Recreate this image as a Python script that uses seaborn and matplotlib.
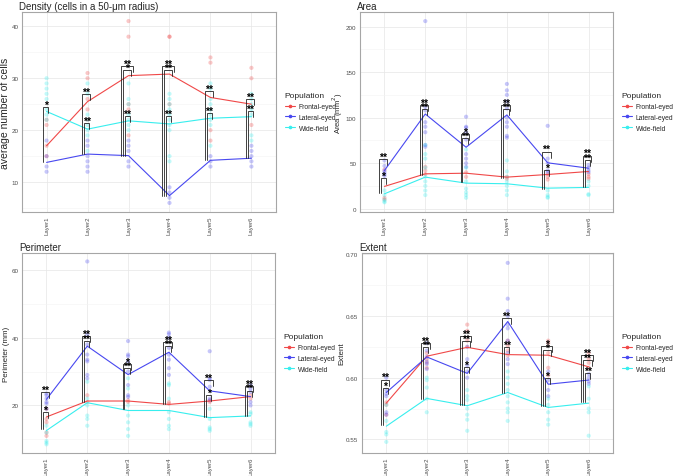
import matplotlib
matplotlib.use("Agg")
import matplotlib.pyplot as plt
import numpy as np
import pandas as pd
import seaborn as sns
from matplotlib.lines import Line2D

sns.set_theme(style="white")
plt.rcParams['font.family'] = ['Liberation Sans', 'DejaVu Sans']

layers = ["Layer1", "Layer2", "Layer3", "Layer4", "Layer5", "Layer6"]
populations = ["Frontal-eyed", "Lateral-eyed", "Wide-field"]
pop_colors = ["#F04848", "#4848F0", "#38EEEE"]

# ---------------- Density ----------------
density_frontal_mean = [17.0, 25.5, 30.5, 30.8, 26.3, 25.0]
density_lateral_mean = [13.8, 15.4, 15.1, 7.4, 14.2, 14.6]
density_wide_mean = [23.6, 20.2, 21.8, 21.2, 22.3, 22.6]
density_frontal_pts = [[22, 21, 17, 15], [31, 30, 26, 24, 22], [41, 38, 25, 24, 19],
                       [38, 38, 25], [34, 33, 20, 18], [32, 30, 21]]
density_lateral_pts = [[18, 15, 13, 12], [18, 17, 15, 14, 13, 12], [18, 17, 16, 14, 13],
                       [9, 8, 7, 6], [15, 14, 13], [17, 16, 15, 14, 13]]
density_wide_pts = [[30, 29, 28, 27, 26, 24, 23, 22], [29, 27, 23, 22, 21, 20, 19, 16],
                    [29, 26, 25, 23, 22, 21, 20], [27, 26, 25, 24, 23, 22, 21, 20, 15, 14],
                    [29, 28, 26, 25, 24, 23, 22, 21, 17], [27, 26, 25, 24, 23, 19, 18]]
density_brackets = [(1, 13.8, 24.4, "*"),
                    (2, 15.4, 26.9, "**"), (2, 15.4, 21.3, "**"),
                    (3, 15.1, 32.4, "**"), (3, 15.1, 31.5, "*"), (3, 15.1, 22.8, "**"),
                    (4, 7.4, 32.4, "**"), (4, 7.4, 31.5, "**"), (4, 7.4, 22.7, "**"),
                    (5, 14.2, 27.6, "**"), (5, 14.2, 23.3, "**"),
                    (6, 14.6, 26.0, "**"), (6, 14.6, 23.6, "**")]

# ---------------- Area ----------------
area_frontal_mean = [24.5, 38.3, 39.0, 34.7, 37.6, 40.9]
area_lateral_mean = [42.0, 104.0, 67.5, 103.0, 50.4, 44.5]
area_wide_mean = [16.4, 34.7, 28.1, 27.4, 22.6, 23.4]
area_frontal_pts = [[43, 12, 10], [46, 42, 38], [40, 35], [35, 33], [38, 35, 32], [38, 35, 33]]
area_lateral_pts = [[53, 47, 42, 40, 38, 36], [206, 112, 108, 95, 90, 84, 70, 68],
                    [101, 90, 89, 84, 76, 60, 55, 50, 46],
                    [137, 130, 125, 118, 110, 100, 95, 90, 80, 78],
                    [91, 55, 50, 42, 40], [48, 45, 42, 40]]
area_wide_pts = [[20, 15, 10, 8, 7], [70, 60, 55, 45, 35, 30, 25, 20, 15],
                 [65, 45, 30, 22, 18, 15, 12], [53, 41, 35, 30, 25, 20, 15],
                 [20, 15, 13, 12], [30, 25, 16, 15]]
area_brackets = [(1, 17, 54.7, "**"), (1, 17, 34, "*"),
                 (2, 37, 114, "**"), (2, 37, 109.5, "**"),
                 (3, 29, 82, "*"), (3, 29, 77.5, "**"),
                 (4, 34, 114, "**"), (4, 34, 109.5, "**"),
                 (5, 22, 62.8, "**"), (5, 22, 42, "*"),
                 (6, 24, 58.4, "**"), (6, 24, 53, "**")]

# ---------------- Perimeter ----------------
perim_frontal_mean = [16.6, 21.3, 21.3, 20.3, 21.3, 22.6]
perim_lateral_mean = [21.8, 37.5, 29.1, 35.7, 24.3, 22.6]
perim_wide_mean = [12.6, 20.8, 18.5, 18.5, 16.4, 16.9]
perim_frontal_pts = [[19, 16, 15, 12, 11], [23, 21], [21.5, 21], [21, 20.5], [21.5, 21], [23, 22]]
perim_lateral_pts = [[23.5, 23, 22, 21, 20.5, 19], [62.5, 41, 38, 35, 33.5, 33, 29, 28],
                     [39, 35, 34.5, 33, 30, 26, 23, 22.5], [41.5, 41, 40, 37, 35, 33.5, 31, 29],
                     [36, 28, 27.5, 25.5, 22, 21.5], [26, 25, 24, 21, 20]]
perim_wide_pts = [[14, 12, 9.5, 9, 8.5], [27, 22, 20, 17, 16, 14], [28, 25, 20, 17, 15, 13, 11],
                  [26.5, 26, 22, 18, 16, 14, 13], [19, 16, 13.5, 13, 12.5], [18, 17.5, 15, 14.5, 14]]
perim_brackets = [(1, 13, 24, "**"), (1, 13, 18, "*"),
                  (2, 21, 40.4, "**"), (2, 21, 39, "**"),
                  (3, 19, 32.3, "*"), (3, 19, 31, "**"),
                  (4, 20.5, 38.8, "**"), (4, 20.5, 37.4, "**"),
                  (5, 16.5, 27.4, "**"), (5, 16.5, 23, "*"),
                  (6, 17, 25.8, "**"), (6, 17, 24.4, "**")]

# ---------------- Extent ----------------
extent_frontal_mean = [0.5794, 0.6174, 0.6246, 0.6187, 0.6182, 0.6088]
extent_lateral_mean = [0.5880, 0.6168, 0.6035, 0.6455, 0.5947, 0.5981]
extent_wide_mean = [0.5607, 0.5832, 0.5773, 0.5880, 0.5759, 0.5794]
extent_frontal_pts = [[0.580, 0.578, 0.570], [0.620, 0.615, 0.612, 0.608],
                      [0.643, 0.638, 0.630, 0.625], [0.630, 0.626, 0.622, 0.618],
                      [0.630, 0.628, 0.620, 0.608, 0.602], [0.620, 0.615, 0.612, 0.608]]
extent_lateral_pts = [[0.600, 0.590, 0.587, 0.585, 0.572, 0.570],
                      [0.628, 0.622, 0.617, 0.613, 0.611, 0.607],
                      [0.625, 0.615, 0.610, 0.605, 0.600],
                      [0.693, 0.664, 0.654, 0.650, 0.643, 0.640, 0.630, 0.620, 0.615, 0.611],
                      [0.605, 0.598, 0.590, 0.585], [0.603, 0.600, 0.597, 0.595]]
extent_wide_pts = [[0.578, 0.565, 0.556, 0.554, 0.548], [0.600, 0.598, 0.592, 0.583, 0.572],
                   [0.590, 0.585, 0.582, 0.575, 0.570, 0.566, 0.557],
                   [0.605, 0.600, 0.595, 0.590, 0.585, 0.580, 0.575, 0.572, 0.565],
                   [0.583, 0.578, 0.572, 0.566, 0.562], [0.593, 0.583, 0.575, 0.572, 0.553]]
extent_brackets = [(1, 0.562, 0.5985, "**"), (1, 0.562, 0.5915, "*"),
                   (2, 0.583, 0.628, "**"), (2, 0.583, 0.6245, "**"),
                   (3, 0.578, 0.6335, "**"), (3, 0.578, 0.6295, "**"), (3, 0.578, 0.609, "*"),
                   (4, 0.588, 0.648, "**"), (4, 0.588, 0.6245, "**"),
                   (5, 0.577, 0.626, "*"), (5, 0.577, 0.6225, "*"), (5, 0.577, 0.5995, "*"),
                   (6, 0.580, 0.618, "**"), (6, 0.580, 0.6145, "**"), (6, 0.580, 0.6035, "**")]

panels = [
    dict(title="Density (cells in a 50-\u03bcm radius)", ylabel="average number of cells",
         means=[density_frontal_mean, density_lateral_mean, density_wide_mean],
         pts=[density_frontal_pts, density_lateral_pts, density_wide_pts],
         brackets=density_brackets, ylim=(4.25, 42.75), yticks=[10, 20, 30, 40],
         minor=[5, 15, 25, 35], fmt="{:.0f}", ylsize=7.5,
         rect=[22 / 676, 1 - 213 / 477, 254 / 676, 200 / 477]),
    dict(title="Area", ylabel="Area (mm$^2$)",
         means=[area_frontal_mean, area_lateral_mean, area_wide_mean],
         pts=[area_frontal_pts, area_lateral_pts, area_wide_pts],
         brackets=area_brackets, ylim=(-3.6, 216), yticks=[0, 50, 100, 150, 200],
         minor=[25, 75, 125, 175], fmt="{:.0f}", ylsize=5.5,
         rect=[360 / 676, 1 - 213 / 477, 253 / 676, 200 / 477]),
    dict(title="Perimeter", ylabel="Perimeter (mm)",
         means=[perim_frontal_mean, perim_lateral_mean, perim_wide_mean],
         pts=[perim_frontal_pts, perim_lateral_pts, perim_wide_pts],
         brackets=perim_brackets, ylim=(5.95, 65.0), yticks=[20, 40, 60],
         minor=[10, 30, 50], fmt="{:.0f}", ylsize=5.8,
         rect=[22 / 676, 1 - 454 / 477, 253 / 676, 200 / 477]),
    dict(title="Extent", ylabel="Extent",
         means=[extent_frontal_mean, extent_lateral_mean, extent_wide_mean],
         pts=[extent_frontal_pts, extent_lateral_pts, extent_wide_pts],
         brackets=extent_brackets, ylim=(0.539, 0.701), yticks=[0.55, 0.60, 0.65, 0.70],
         minor=[0.575, 0.625, 0.675], fmt="{:.2f}", ylsize=5.8,
         rect=[362 / 676, 1 - 454 / 477, 251 / 676, 200 / 477]),
]

fig = plt.figure(figsize=(6.76, 4.77), dpi=100)
palette = dict(zip(populations, pop_colors))
xpos = np.arange(1, 7)

for p in panels:
    ax = fig.add_axes(p["rect"])
    # points
    rows = []
    for pop, pts in zip(populations, p["pts"]):
        for li, vals in enumerate(pts):
            for v in vals:
                rows.append((li + 1, pop, v))
    dpts = pd.DataFrame(rows, columns=["x", "Population", "value"])
    sns.scatterplot(data=dpts, x="x", y="value", hue="Population", palette=palette,
                    alpha=0.3, s=9, linewidth=0, ax=ax, legend=False, zorder=2)
    # mean lines
    mrows = []
    for pop, m in zip(populations, p["means"]):
        for li, v in enumerate(m):
            mrows.append((li + 1, pop, v))
    dm = pd.DataFrame(mrows, columns=["x", "Population", "value"])
    sns.lineplot(data=dm, x="x", y="value", hue="Population", palette=palette,
                 linewidth=0.8, ax=ax, legend=False, zorder=3)
    # significance brackets
    by_layer = {}
    for b in p["brackets"]:
        by_layer.setdefault(b[0], []).append(b)
    yr = p["ylim"][1] - p["ylim"][0]
    for layer, bl in by_layer.items():
        bl = sorted(bl, key=lambda t: t[2])
        for k, (li, ylow, ytop, lab) in enumerate(bl):
            xl = li - 0.09 - 0.045 * k
            xr = li + 0.04 + 0.03 * k
            ax.plot([xl, xl, xr, xr], [ylow, ytop, ytop, ytop - 0.03 * yr],
                    color="#222222", lw=0.6, zorder=4, solid_joinstyle="miter")
            ax.text((xl + xr) / 2, ytop - 0.014 * yr, lab, ha="center", va="bottom",
                    fontsize=7.5, color="black", zorder=5, fontweight="bold")
    ax.set_xlim(0.4, 6.6)
    ax.set_ylim(*p["ylim"])
    ax.set_xticks(xpos)
    ax.set_xticklabels(layers, rotation=90, fontsize=4.3, color="#4d4d4d")
    ax.set_yticks(p["yticks"])
    ax.set_yticklabels([p["fmt"].format(t) for t in p["yticks"]], fontsize=4.5, color="#4d4d4d")
    ax.set_yticks(p["minor"], minor=True)
    ax.grid(True, which="major", color="#e6e6e6", lw=0.5, zorder=0)
    ax.grid(True, which="minor", axis="y", color="#f3f3f3", lw=0.4, zorder=0)
    ax.set_axisbelow(True)
    ax.tick_params(axis="both", which="major", length=1.6, width=0.5, color="#b3b3b3", pad=1.0)
    ax.tick_params(axis="y", which="minor", length=0)
    for s in ax.spines.values():
        s.set_color("#a6a6a6")
        s.set_linewidth(0.8)
    ax.set_xlabel("")
    ax.set_ylabel(p["ylabel"], fontsize=p["ylsize"], labelpad=0.8)
    ax.set_title(p["title"], loc="left", fontsize=7, pad=2, x=-0.01)
    handles = [Line2D([0], [0], color=c, lw=0.8, marker="o", markersize=1.6) for c in pop_colors]
    leg = ax.legend(handles, populations, title="Population", loc="center left",
                    bbox_to_anchor=(1.015, 0.5), frameon=False, fontsize=4.9,
                    title_fontsize=6.0, handlelength=1.5, handletextpad=0.6,
                    labelspacing=0.55, borderpad=0.2)
    leg._legend_box.align = "left"

fig.savefig("out.png", dpi=100)
